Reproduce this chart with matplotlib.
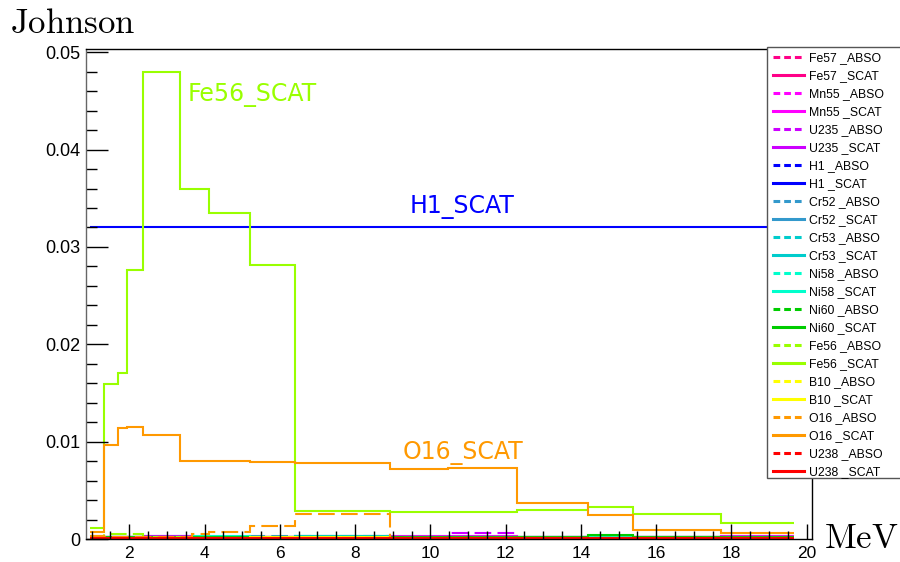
import matplotlib
matplotlib.use("Agg")
import matplotlib.pyplot as plt
from matplotlib.lines import Line2D
from matplotlib.patches import Rectangle
from matplotlib.ticker import MultipleLocator

# ---------------- data ----------------
edges = [0.96, 1.33, 1.70, 1.95, 2.36, 3.35, 3.67, 4.12, 5.21, 6.40,
         8.93, 10.47, 12.30, 14.19, 15.38, 17.72, 19.66]

isotopes = ["Fe57", "Mn55", "U235", "H1", "Cr52", "Cr53", "Ni58", "Ni60",
            "Fe56", "B10", "O16", "U238"]
colors = ["#ff0088", "#ff00ff", "#cc00ff", "#0000ff", "#3399cc", "#00cccc",
          "#00ffcc", "#00cc00", "#99ff00", "#ffff00", "#ff9900", "#ff0000"]

Fe57_ABSO = [0.0002, 0.0001, 0.0001, 0.0001, 0.0001, 0.0001, 0.0001, 0.0001,
             0.0001, 0.0001, 0.0001, 0.0001, 0.0001, 0.0001, 0.0001, 0.0001]
Fe57_SCAT = [0.0003, 0.0002, 0.0002, 0.0002, 0.0002, 0.0002, 0.0002, 0.0002,
             0.0002, 0.0002, 0.0002, 0.0002, 0.0002, 0.0002, 0.0002, 0.0003]
Mn55_ABSO = [0.0001, 0.0001, 0.0001, 0.0001, 0.0001, 0.0001, 0.0001, 0.0001,
             0.0001, 0.0001, 0.0001, 0.0001, 0.0001, 0.0001, 0.0001, 0.0001]
Mn55_SCAT = [0.0002, 0.0002, 0.0002, 0.0002, 0.0003, 0.0003, 0.0002, 0.0002,
             0.0002, 0.0002, 0.0003, 0.0003, 0.0002, 0.0002, 0.0002, 0.0003]
U235_ABSO = [0.0001, 0.0001, 0.0001, 0.0001, 0.0001, 0.0001, 0.0001, 0.0001,
             0.0001, 0.0001, 0.0001, 0.0006, 0.0001, 0.0001, 0.0001, 0.0001]
U235_SCAT = [0.0002, 0.0002, 0.0002, 0.0002, 0.0003, 0.0003, 0.0002, 0.0002,
             0.0002, 0.0002, 0.0002, 0.0002, 0.0002, 0.0002, 0.0002, 0.0002]
H1_ABSO = [0.0001, 0.0001, 0.0001, 0.0001, 0.0001, 0.0001, 0.0001, 0.0001,
           0.0001, 0.0002, 0.0001, 0.0001, 0.0001, 0.0001, 0.0001, 0.0001]
H1_SCAT = [0.0320] * 16
Cr52_ABSO = [0.0001, 0.0001, 0.0001, 0.0001, 0.0001, 0.0001, 0.0001, 0.0001,
             0.0003, 0.0003, 0.0001, 0.0001, 0.0001, 0.0001, 0.0001, 0.0001]
Cr52_SCAT = [0.0002, 0.0002, 0.0002, 0.0002, 0.0002, 0.0002, 0.0002, 0.0002,
             0.0002, 0.0003, 0.0002, 0.0002, 0.0002, 0.0002, 0.0002, 0.0002]
Cr53_ABSO = [0.0001, 0.0001, 0.0001, 0.0001, 0.0001, 0.0001, 0.0001, 0.0001,
             0.0001, 0.0001, 0.0001, 0.0001, 0.0001, 0.0001, 0.0001, 0.0001]
Cr53_SCAT = [0.0002, 0.0002, 0.0002, 0.0002, 0.0002, 0.0002, 0.0002, 0.0002,
             0.0002, 0.0003, 0.0002, 0.0002, 0.0002, 0.0002, 0.0002, 0.0002]
Ni58_ABSO = [0.0001, 0.0001, 0.0001, 0.0001, 0.0001, 0.0001, 0.0001, 0.0001,
             0.0001, 0.0001, 0.0001, 0.0001, 0.0001, 0.0001, 0.0001, 0.0001]
Ni58_SCAT = [0.0002, 0.0002, 0.0002, 0.0002, 0.0002, 0.0002, 0.0003, 0.0003,
             0.0002, 0.0002, 0.0002, 0.0002, 0.0002, 0.0002, 0.0002, 0.0002]
Ni60_ABSO = [0.0001, 0.0001, 0.0001, 0.0001, 0.0001, 0.0001, 0.0001, 0.0001,
             0.0001, 0.0001, 0.0001, 0.0001, 0.0001, 0.0001, 0.0001, 0.0001]
Ni60_SCAT = [0.0002, 0.0002, 0.0002, 0.0002, 0.0002, 0.0002, 0.0002, 0.0002,
             0.0002, 0.0002, 0.0002, 0.0002, 0.0002, 0.0004, 0.0002, 0.0002]
Fe56_ABSO = [0.0002, 0.0005, 0.0005, 0.0005, 0.0002, 0.0001, 0.0001, 0.0001,
             0.0001, 0.0001, 0.0001, 0.0001, 0.0001, 0.0001, 0.0001, 0.0001]
Fe56_SCAT = [0.0011, 0.0159, 0.0170, 0.0276, 0.0480, 0.0360, 0.0359, 0.0335,
             0.0281, 0.0029, 0.0028, 0.0028, 0.0030, 0.0033, 0.0026, 0.0016]
B10_ABSO = [0.00005] * 16
B10_SCAT = [0.0001, 0.0001, 0.0001, 0.0001, 0.0001, 0.0001, 0.0001, 0.0001,
            0.0002, 0.0002, 0.0001, 0.0001, 0.0001, 0.0001, 0.0001, 0.0001]
O16_ABSO = [0.0003, 0.0002, 0.0002, 0.0002, 0.0002, 0.0002, 0.00048, 0.00075,
            0.00134, 0.00257, 0.0, 0.0, 0.0, 0.0, 0.0, 0.0]
O16_SCAT = [0.0007, 0.00967, 0.0114, 0.0115, 0.01067, 0.0080, 0.0080, 0.0080,
            0.0079, 0.0078, 0.00715, 0.00726, 0.00373, 0.00246, 0.00092, 0.00058]
U238_ABSO = [0.0001, 0.0001, 0.0001, 0.0001, 0.0001, 0.0001, 0.0001, 0.0001,
             0.0001, 0.0001, 0.0001, 0.0001, 0.0001, 0.0001, 0.0001, 0.0001]
U238_SCAT = [0.00015] * 16

series = {
    "Fe57": (Fe57_ABSO, Fe57_SCAT), "Mn55": (Mn55_ABSO, Mn55_SCAT),
    "U235": (U235_ABSO, U235_SCAT), "H1": (H1_ABSO, H1_SCAT),
    "Cr52": (Cr52_ABSO, Cr52_SCAT), "Cr53": (Cr53_ABSO, Cr53_SCAT),
    "Ni58": (Ni58_ABSO, Ni58_SCAT), "Ni60": (Ni60_ABSO, Ni60_SCAT),
    "Fe56": (Fe56_ABSO, Fe56_SCAT), "B10": (B10_ABSO, B10_SCAT),
    "O16": (O16_ABSO, O16_SCAT), "U238": (U238_ABSO, U238_SCAT),
}

# ---------------- figure ----------------
plt.rcParams["mathtext.fontset"] = "cm"
fig = plt.figure(figsize=(9, 5.62), dpi=100)
ax = fig.add_axes([86 / 900, 1 - 539 / 562, (812 - 86) / 900, (539 - 49.3) / 562])

handles = []
for iso, col in zip(isotopes, colors):
    absov, scatv = series[iso]
    ax.stairs(absov, edges, color=col, lw=1.5, linestyle=(0, (8, 3)), baseline=None)
    ax.stairs(scatv, edges, color=col, lw=1.5, linestyle="-", baseline=None)
    handles.append(Line2D([], [], color=col, lw=2.2, linestyle=(0, (2.2, 1.3))))
    handles.append(Line2D([], [], color=col, lw=2.2, linestyle="-"))
labels = []
for iso in isotopes:
    labels += [f"{iso} _ABSO", f"{iso} _SCAT"]

ax.set_xlim(0.85, 20.14)
ax.set_ylim(0, 0.0503)

ax.xaxis.set_major_locator(MultipleLocator(2))
ax.xaxis.set_minor_locator(MultipleLocator(0.5))
ax.yaxis.set_major_locator(MultipleLocator(0.01))
ax.yaxis.set_minor_locator(MultipleLocator(0.002))
ax.tick_params(axis="x", which="major", direction="in", length=11, width=1,
               top=False, pad=5, labelsize=12.5)
ax.tick_params(axis="x", which="minor", direction="in", length=5.5, width=1, top=False)
ax.tick_params(axis="y", which="major", direction="in", length=16, width=1,
               right=False, pad=4, labelsize=13)
ax.tick_params(axis="y", which="minor", direction="in", length=8, width=1, right=False)
for lab in ax.get_xticklabels() + ax.get_yticklabels():
    lab.set_fontfamily("Liberation Sans")
ax.yaxis.set_major_formatter(matplotlib.ticker.FuncFormatter(
    lambda v, p: "0" if abs(v) < 1e-12 else f"{v:.2f}"))
for s in ax.spines.values():
    s.set_linewidth(1)
ax.spines["left"].set_color("#666666")

# annotations
ax.text(3.56, 0.0450, "Fe56_SCAT", color="#99ff00", fontsize=17, family="DejaVu Sans")
ax.text(9.46, 0.03345, "H1_SCAT", color="#0000ff", fontsize=17, family="DejaVu Sans")
ax.text(9.27, 0.0082, "O16_SCAT", color="#ff9900", fontsize=17, family="DejaVu Sans")

fig.text(10 / 900, 1 - 33 / 562, r"$\mathrm{Johnson}$", fontsize=25, ha="left", va="baseline")
fig.text(898 / 900, 1 - 548 / 562, r"$\mathrm{MeV}$", fontsize=25, ha="right", va="baseline")

# legend box (extends beyond the right edge as in the reference)
box = Rectangle((767 / 900, 1 - 478 / 562), 150 / 900, (478 - 47) / 562,
                transform=fig.transFigure, facecolor="white",
                edgecolor="#555555", linewidth=1, zorder=5)
fig.add_artist(box)

leg = fig.legend(handles, labels, loc="upper left",
                 bbox_to_anchor=(767 / 900, 1 - 47 / 562),
                 prop={"family": "Liberation Sans", "size": 8.8},
                 handlelength=2.6, handletextpad=0.4, labelspacing=0.49,
                 borderpad=0.45, borderaxespad=0, frameon=False)
leg.set_zorder(10)

fig.savefig("out.png", dpi=100)
